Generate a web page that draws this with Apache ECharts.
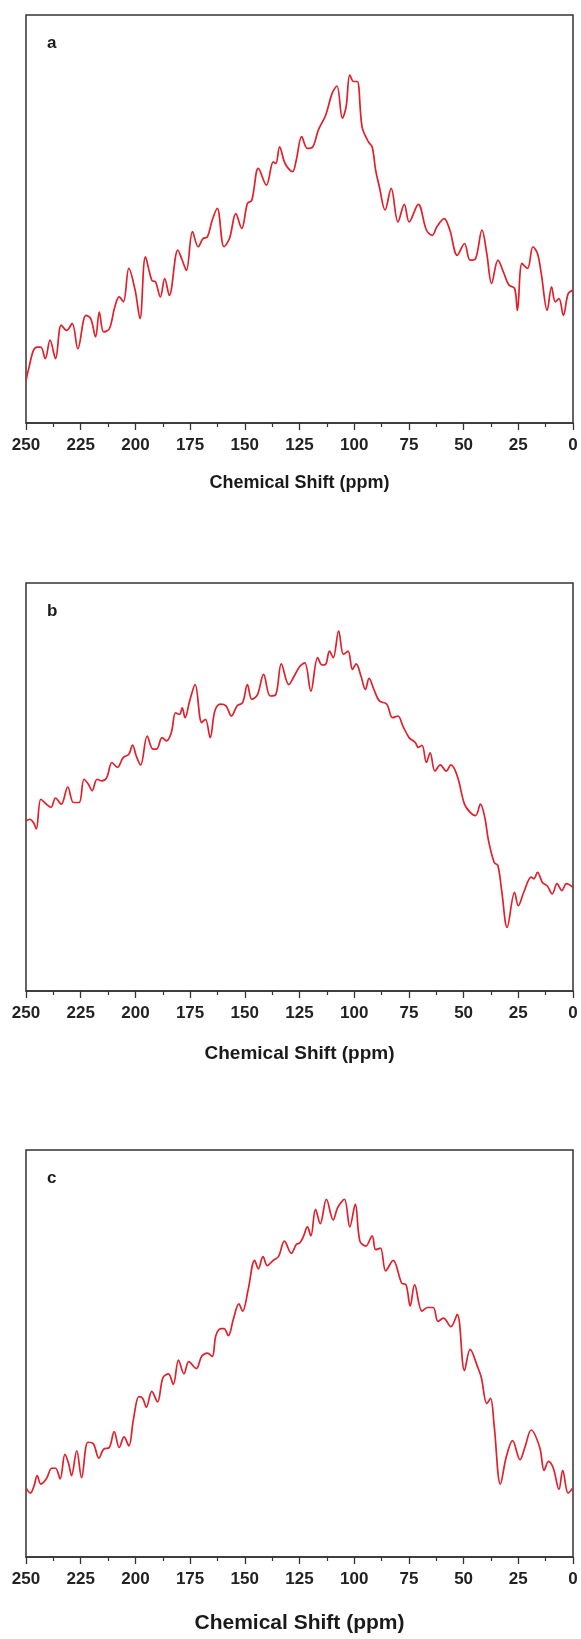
<!DOCTYPE html>
<html>
<head>
<meta charset="utf-8">
<script src="https://cdn.jsdelivr.net/npm/echarts@6/dist/echarts.min.js"></script>
<style>
html,body{margin:0;padding:0;background:#fff;}
#chart{width:581px;height:1639px;}
</style>
</head>
<body>
<div id="chart"></div>
<script>
// Chemical shift positions (ppm) and relative intensities
var ppmA = [250,248.6,246.6,244.9,243.2,241.2,239,236.5,233.9,231.4,228.9,226.3,222.6,220.4,218.2,216.5,214.5,211.9,209.4,207.4,205.5,203,200.1,197.9,195.4,192.5,190.8,188.6,186.6,184.5,180.6,178.6,176.7,173.9,171.3,169.1,167.1,164.9,162.6,159.5,157,154.1,151.4,148.8,146.8,143.8,140.1,137,135.8,134.1,131.6,128.2,126.5,124,121.4,118.9,116.4,113,110.1,107.9,105.4,103.7,102,100.3,98.6,96.4,93.5,91.8,90.2,88.5,85.9,83.1,80,77.1,74.9,70.7,67,64.3,62.2,58.9,56.3,52.9,49.6,47,44.5,41.6,39.4,37.2,34.3,31.8,29.3,26.7,25.4,23.3,20.8,18.3,16.2,14.5,11.8,9.8,8.1,6.4,4.4,2.2,0];
var intA = [10.5,13.7,17.8,18.6,18.6,15.8,20.3,15.8,24,22.7,24.4,18.2,26.4,25.6,21.1,27.2,22.3,23.1,28.5,30.9,29.7,37.9,32.5,25.6,40.7,35,34.6,30.9,35.4,31.3,42.4,39.9,37.4,46.9,43.2,45.2,45.6,49.7,52.6,43.2,45.2,51.3,47.7,53.8,54.6,62.4,58.3,64,63.6,67.7,63.6,61.6,64.4,70.2,67.3,67.7,71.8,75.5,80.8,82.6,74.7,77.5,85.3,83.7,83.7,72.6,68.9,67.7,62,57.9,52.2,57.5,49.3,53.6,49.3,53.6,47.3,46,48.1,50.1,47.3,41.1,44,39.9,40.3,47.3,41.5,34.2,39.9,37,33.8,33,27.6,39.1,37.9,43.2,41.5,36.6,27.6,33.4,29.7,30.5,26.4,31.7,32.5];

var ppmB = [250,248.3,246.6,245.3,243.2,240.7,238.6,236.5,233.9,230.9,228.3,225.7,223.5,221.5,219.8,217.5,215.3,213.1,210.7,208.2,205.6,203,201.3,199.6,197.6,194.6,192,190.3,187.8,185.8,183.6,181.6,179.8,178.6,177.3,175.2,172.7,169.7,168,165.8,163.7,161.2,158.6,156.1,153.5,151,148.8,146.8,144.3,141.4,138.4,135.8,133.3,129.9,127.4,124.8,122.6,119.8,116.7,114.7,113,111.3,109.6,107.1,104.9,102.8,100.8,99.1,96.9,94.9,93.2,91,88.5,85.1,82.5,80,77.8,74.9,72.1,70.7,69,67,65.3,63.1,60.6,58,55.8,52.9,49.6,47,44.5,42.3,40.3,38.6,36,34.3,32.6,30.1,26.7,25,22.5,19.1,17.9,16.2,14,11.8,9.5,7.3,5.1,3,0];
var intB = [41.7,42.1,41.3,39.7,47,45.8,45,47.3,45.8,50,46.2,46.2,51.9,50.7,49.1,51.9,51.5,52.3,56,54.8,57.2,58,60.3,57.6,55.4,62.5,59.3,59.3,62.1,61.3,63.3,68.2,67.8,69.4,67,71.1,75.1,65.8,66.6,62.1,68.6,70.3,69.9,67.4,69.9,70.7,75.1,71.5,72.5,77.6,72.3,72.7,80.2,75.1,77.2,79.6,80.4,73.5,81.7,79.9,80.1,83.3,81.7,88.3,82.5,83.3,78.8,80.2,77.2,73.9,76.6,73.9,71.1,70.3,67,67.4,65,62.1,60.9,59.7,60.2,56,58.4,53.9,55.4,53.9,55.4,52.7,45.8,43.8,43,45.8,42.5,36.8,31.5,30.7,24.6,15.6,24.2,20.9,24.2,27.9,27.5,29.1,26.6,25.8,23.8,26.3,24.6,26.3,25.4];

var ppmC = [250,248,246.3,244.9,243.2,240.7,238.2,236.5,234.4,232.2,230.5,229.2,226.8,224.6,221.7,219.2,216.7,214.5,211.9,209.7,207.4,205.2,203,200.9,198.4,196.7,195,192.5,189.9,187.4,184.9,182.7,180.3,177.8,175.6,172.2,169.7,167.1,164.9,163.2,160.9,159.5,157.5,155.3,152.7,151,148.5,145.5,143.8,141.7,139.7,137,134.6,131.9,128.7,126.5,124.8,123.1,121.4,119.8,117.7,115.5,112.7,109.6,107.6,104.5,102,99.5,97.4,94.7,91.8,90.2,88,85.6,82.2,78.3,76.3,74.4,72.4,69,66.5,63.9,61.7,59.2,55.8,52.9,49.6,47,43.6,41.9,39.4,37.7,36,33.2,30.4,27.6,24.2,22,19.1,15.2,13.2,11.2,9,6.4,4.7,2.2,0];
var intC = [17,15.7,17.5,20,17.9,19.2,21.8,21.8,19.2,25.2,22.9,20,26.1,19.5,28.2,27.8,24.3,26.5,26.9,30.8,26.9,29.5,27.3,33.8,39.4,39,36.8,40.7,38.1,44.1,45,42.4,48.4,45,48,46.3,49.3,50.1,49.3,54.4,56.1,56.1,54.4,58.3,62.2,60.4,65.6,72.9,70.8,73.8,71.6,72.9,73.8,77.6,74.6,76.8,77.2,78.9,81.1,78.9,85.4,81.9,87.9,82.8,85.8,87.9,81.1,86.7,77.6,76.4,78.9,75.5,75.9,70.3,72.9,67.3,66.9,61.7,66.9,60.4,61.3,61.3,57.9,58.7,56.6,59.6,45.8,51,46.7,44.1,37.7,39,32.1,17.9,24.8,28.6,23.9,26.9,31.2,26.9,21.3,23.5,21.8,16.6,21.3,15.7,17];

var panelLabels = ['a','b','c'];
var axisTitle = 'Chemical Shift (ppm)';
var tickValues = [250,225,200,175,150,125,100,75,50,25,0];

var ppms = [ppmA, ppmB, ppmC];
var ints = [intA, intB, intC];
var tops = [15, 583, 1150];
var heights = [408, 408, 407];
var nameSizes = [18, 19, 21];
var nameGaps = [51, 53, 56];

function pairs(x, y){ var out=[]; for(var i=0;i<x.length;i++){ out.push([x[i], y[i]]); } return out; }

var grids=[], xAxes=[], yAxes=[], series=[], titles=[];
for (var k=0;k<3;k++){
  grids.push({left:26, right:8, top:tops[k], height:heights[k], show:true, borderColor:'#333', borderWidth:1.5, backgroundColor:'transparent'});
  xAxes.push({
    type:'value', gridIndex:k, min:0, max:250, interval:25, inverse:true,
    name: axisTitle, nameLocation:'middle', nameGap:nameGaps[k],
    nameTextStyle:{fontFamily:'Liberation Sans, Arial, sans-serif', fontWeight:'bold', fontSize:nameSizes[k], color:'#1a1a1a'},
    axisLine:{show:true, onZero:false, lineStyle:{color:'#333', width:1.5}},
    axisTick:{show:true, inside:false, length:7, lineStyle:{color:'#333', width:1.3}},
    minorTick:{show:true, splitNumber:2, length:4, lineStyle:{color:'#333', width:1.2}},
    axisLabel:{show:true, margin:14, fontFamily:'Liberation Sans, Arial, sans-serif', fontWeight:'bold', fontSize:17, color:'#222',
      formatter:function(v){ return tickValues.indexOf(v)>=0 ? String(v) : ''; }},
    splitLine:{show:false}
  });
  yAxes.push({type:'value', gridIndex:k, min:0, max:100, show:false, splitLine:{show:false}});
  series.push({
    type:'line', xAxisIndex:k, yAxisIndex:k, data:pairs(ppms[k], ints[k]),
    showSymbol:false, symbol:'none', smooth:0.35,
    lineStyle:{color:'#e0202a', width:1.7}, animation:false
  });
  titles.push({text:panelLabels[k], left:42, top:tops[k]+15,
    textStyle:{fontFamily:'Liberation Sans, Arial, sans-serif', fontWeight:'bold', fontSize:17, color:'#1a1a1a'}});
}

var chart = echarts.init(document.getElementById('chart'), null, {renderer:'canvas'});
chart.setOption({
  animation:false,
  backgroundColor:'#fff',
  title:titles,
  grid:grids,
  xAxis:xAxes,
  yAxis:yAxes,
  series:series
});
</script>
</body>
</html>
